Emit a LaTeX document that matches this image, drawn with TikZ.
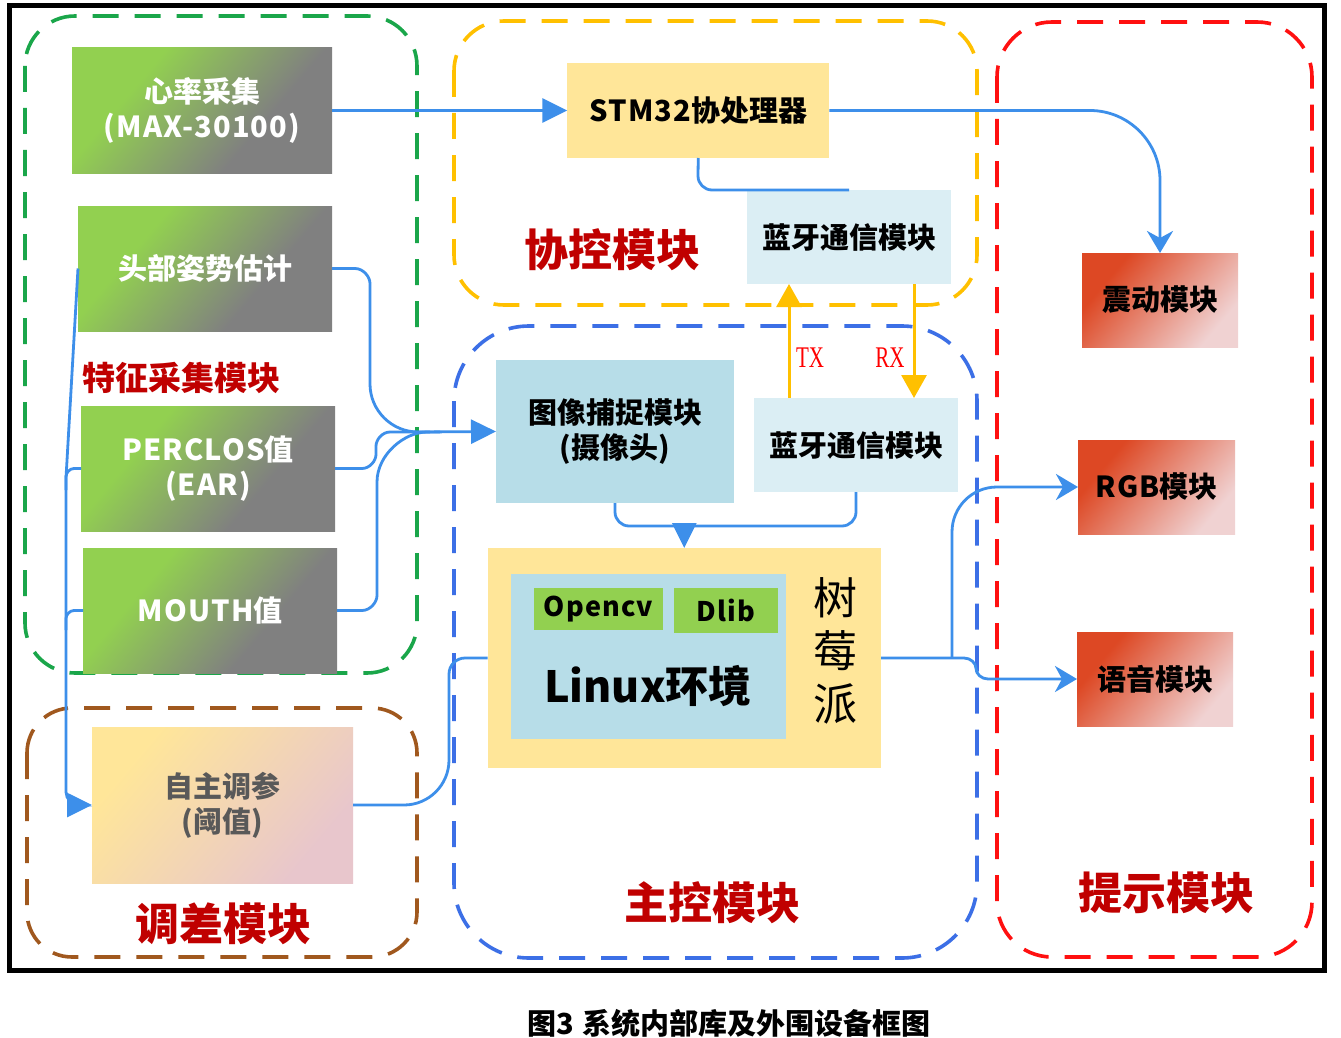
\documentclass[tikz,border=0pt]{standalone}
\usepackage{fontspec}
\setmainfont{Noto Sans CJK SC}
\newfontfamily\txfont{Liberation Serif}
\newfontfamily\widefont{Noto Sans CJK SC}[LetterSpace=4]
\usetikzlibrary{arrows.meta}
\definecolor{bline}{HTML}{3D8FEA}
\definecolor{rblue}{HTML}{3C6FE6}
\definecolor{rgreen}{HTML}{1AA64A}
\definecolor{ryellow}{HTML}{FFC000}
\definecolor{rred}{HTML}{FF1010}
\definecolor{rbrown}{HTML}{A0581E}
\definecolor{lblred}{HTML}{C00000}
\definecolor{grnA}{HTML}{92D050}
\definecolor{gryA}{HTML}{808080}
\definecolor{redA}{HTML}{DD4824}
\definecolor{redB}{HTML}{F0D2D2}
\definecolor{ylwA}{HTML}{FFE699}
\definecolor{pnkB}{HTML}{E8C6CC}
\definecolor{ltblue}{HTML}{DBEEF4}
\definecolor{mdblue}{HTML}{B7DDE8}
\definecolor{txtgray}{HTML}{595959}
\pgfdeclarehorizontalshading{grngry}{100bp}{color(0bp)=(grnA); color(33bp)=(grnA); color(64bp)=(gryA); color(100bp)=(gryA)}
\pgfdeclarehorizontalshading{redpnk}{100bp}{color(0bp)=(redA); color(29bp)=(redA); color(74bp)=(redB); color(100bp)=(redB)}
\pgfdeclarehorizontalshading{ylwpnk}{100bp}{color(0bp)=(ylwA); color(27bp)=(ylwA); color(73bp)=(pnkB); color(100bp)=(pnkB)}
\begin{document}
\begin{tikzpicture}[x=1pt,y=-1pt,
  region/.style={line width=3.6pt, dash pattern=on 26pt off 16pt},
  box/.style={inner sep=0pt, outer sep=0pt, align=center, font=\fontsize{29}{35}\selectfont\bfseries},
  gbox/.style={box, shade, shading=grngry, shading angle=-40, text=white},
  rbox/.style={box, shade, shading=redpnk, shading angle=-40, text=black},
  ybox/.style={box, shade, shading=ylwpnk, shading angle=-40, text=txtgray},
  flat/.style={box, fill=#1, text=black},
  lbl/.style={inner sep=0pt, text=lblred, font=\fontsize{44}{50}\selectfont\bfseries},
  conn/.style={draw=bline, line width=2.8pt},
  oconn/.style={draw=ryellow, line width=3pt},
  tri/.style={-{Triangle[length=25pt,width=24pt]}},
  stl/.style={-{Stealth[length=22pt,width=26pt,inset=7pt]}},
  otri/.style={-{Triangle[length=23pt,width=25pt]}}
]
\useasboundingbox (0,0) rectangle (1341,1038);
\fill[white] (0,0) rectangle (1341,1038);

% outer frame
\draw[line width=5pt] (9.5,5.5) rectangle (1324.5,970);

% region borders
\draw[region, draw=rgreen, rounded corners=50] (25,16) rectangle (417,673);
\draw[region, draw=ryellow, rounded corners=50] (454,21) rectangle (977,305);
\draw[region, draw=rblue, rounded corners=75] (454,326) rectangle (977,958);
\draw[region, draw=rred, rounded corners=55] (997,22) rectangle (1312,957);
\draw[region, draw=rbrown, rounded corners=45] (27,708) rectangle (417,957);

% left column boxes
\node[gbox, minimum width=260, minimum height=125] (hr) at (202,110.5) {心率采集\\{\widefont\bfseries (MAX-30100)}};
\node[gbox, minimum width=254, minimum height=125] (head) at (205,268.5) {头部姿势估计};
\node[gbox, minimum width=254, minimum height=125] (perc) at (208,468.5) {{\widefont\bfseries PERCLOS}值\\{\widefont\bfseries (EAR)}};
\node[gbox, minimum width=254, minimum height=125] (mouth) at (210,610.5) {{\widefont\bfseries MOUTH}值};
\node[ybox, minimum width=261, minimum height=156] (self) at (222.5,805) {自主调参\\(阈值)};

% top middle
\node[flat=ylwA, minimum width=262, minimum height=95] (stm) at (698.25,110.5) {{\widefont\bfseries STM32}协处理器};
\node[flat=ltblue, minimum width=204, minimum height=94] (bt1) at (849,237) {蓝牙通信模块};

% main control
\node[flat=mdblue, minimum width=238, minimum height=143] (img) at (615,431.5) {图像捕捉模块\\(摄像头)};
\node[flat=ltblue, minimum width=204, minimum height=94] (bt2) at (856,445) {蓝牙通信模块};
\node[flat=ylwA, minimum width=393.5, minimum height=220] (rasp) at (684.25,658) {};
\node[flat=mdblue, minimum width=275, minimum height=165] (linux) at (648.5,656.5) {};
\node[flat=grnA, minimum width=129, minimum height=42, font=\fontsize{27}{30}\selectfont\bfseries] (ocv) at (598.5,609) {\addfontfeature{LetterSpace=4}Opencv};
\node[flat=grnA, minimum width=104, minimum height=45, font=\fontsize{27}{30}\selectfont\bfseries] (dlib) at (726,610.5) {\addfontfeature{LetterSpace=4}Dlib};
\node[inner sep=0pt, font=\fontsize{43}{50}\selectfont\bfseries] (lxt) at (648,686) {Linux环境};
\node[inner sep=0pt, align=center, font=\fontsize{44}{53}\selectfont] (rpi) at (835,651) {树\\莓\\派};

% right column
\node[rbox, minimum width=156, minimum height=94] (vib) at (1160,300) {震动模块};
\node[rbox, minimum width=157, minimum height=94] (rgb) at (1156.5,487) {{\widefont\bfseries RGB}模块};
\node[rbox, minimum width=156, minimum height=94] (voice) at (1155,679) {语音模块};

% region labels
\node[lbl] (l1) at (612,250) {协控模块};
\node[lbl, font=\fontsize{33}{40}\selectfont\bfseries] (l2) at (181,378) {特征采集模块};
\node[lbl] (l3) at (712,903) {主控模块};
\node[lbl] (l4) at (1166,893) {提示模块};
\node[lbl] (l5) at (223,924) {调差模块};

% TX / RX
\node[inner sep=0pt, text=red, font=\fontsize{30}{30}\txfont] (tx) at (810,358) {\scalebox{0.7}[1]{TX}};
\node[inner sep=0pt, text=red, font=\fontsize{30}{30}\txfont] (rx) at (890,358) {\scalebox{0.7}[1]{RX}};

% caption
\node[inner sep=0pt, font=\fontsize{29}{32}\selectfont\bfseries] (cap) at (729,1023) {图3\hspace{8pt}系统内部库及外围设备框图};

% ---- connectors ----
\draw[conn, tri] (hr.east) -- (stm.west);
\draw[conn, stl] (stm.east) -- (1090,110.5) .. controls (1128.5,110.5) and (1160,142) .. (1160,180.5) -- (vib.north);
\draw[conn] (stm.south) -- (698,176) .. controls (698,183.7) and (704.3,190) .. (712,190) -- (bt1.north);

\coordinate (txb) at ([xshift=35pt]bt2.north west);
\coordinate (rxt) at ([xshift=-37pt]bt1.south east);
\draw[oconn, otri] (txb) -- (txb |- bt1.south);
\draw[oconn, otri] (rxt) -- (rxt |- bt2.north);

% feature inputs to image capture
\draw[conn, tri] (head.east) -- (355,268.5) .. controls (363.25,268.5) and (370,276.75) .. (370,283.5) -- (370,384) .. controls (370,410.4) and (391.6,432) .. (418,432) -- (img.west);
\draw[conn] (perc.east) -- (362,468.5) .. controls (369.7,468.5) and (376,460.8) .. (376,454.5) -- (376,446) .. controls (376,439.7) and (382.3,432) .. (390,432) -- (430,432);
\draw[conn] (mouth.east) -- (362,610.5) .. controls (370.25,610.5) and (377,602.25) .. (377,595.5) -- (377,482) .. controls (377,454.5) and (404.5,432) .. (427,432) -- (440,432);

% left feedback line to self-tuning
\draw[conn, tri] (head.west) -- (66,478) -- (66,792) .. controls (66,799) and (72,805) .. (79,805) -- (self.west);
\draw[conn] (perc.west) -- (74,468.5) .. controls (69.6,468.5) and (66,472.9) .. (66,476.5) -- (66,490);
\draw[conn] (mouth.west) -- (74,610.5) .. controls (69.6,610.5) and (66,614.9) .. (66,618.5) -- (66,630);

% self-tuning to raspberry
\draw[conn] (self.east) -- (404,805) .. controls (428.75,805) and (449,785) .. (449,760) -- (449,674) .. controls (449,665.2) and (456.2,658) .. (465,658) -- (rasp.west);

% image + bt2 into raspberry
\coordinate (jn) at ([yshift=22pt]rasp.north);
\draw[conn] (img.south) -- (615,512) .. controls (615,519.7) and (621.3,526) .. (629,526) -- (842,526) .. controls (849.7,526) and (856,519.7) .. (856,512) -- (bt2.south);
\draw[conn, tri] (jn) -- (rasp.north);

% raspberry to outputs
\draw[conn, stl] (rasp.east) -- (964,658) .. controls (970.6,658) and (976,663) .. (976,668.5) .. controls (976,674) and (981.4,679) .. (988,679) -- (voice.west);
\coordinate (br) at (952,658);
\draw[conn, stl] (br) -- (952,532) .. controls (952,507.25) and (971.75,487) .. (997,487) -- (rgb.west);
\end{tikzpicture}
\end{document}
